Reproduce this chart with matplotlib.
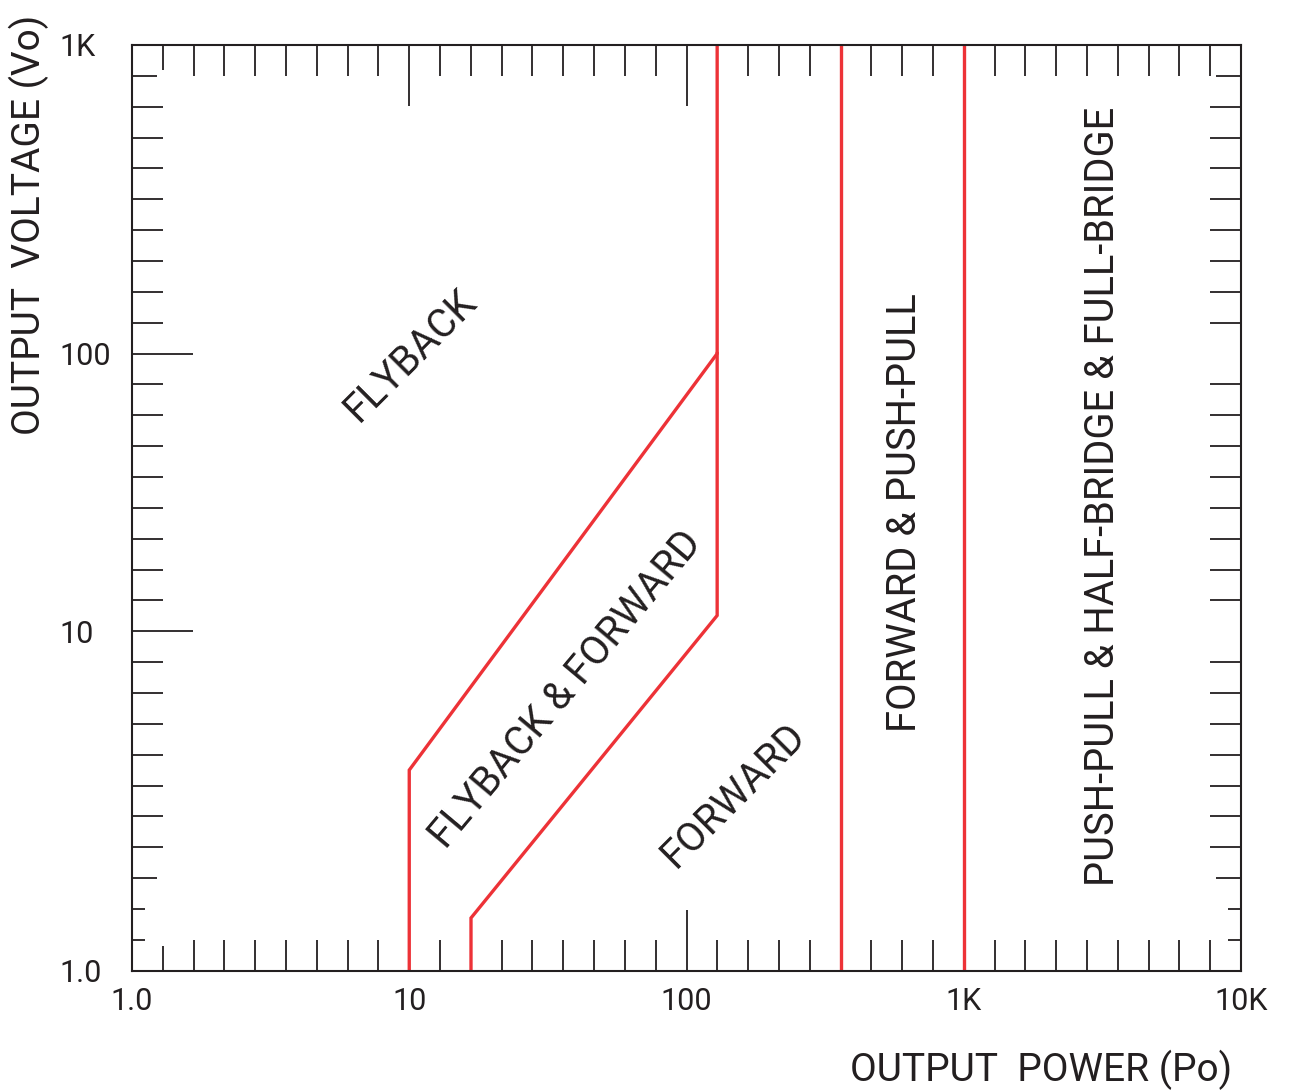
import numpy as np
import matplotlib
matplotlib.use('Agg')
from matplotlib import pyplot as plt
from matplotlib.ticker import FixedLocator, NullFormatter

plt.rcParams['font.family'] = ['Roboto', 'DejaVu Sans']

ink = '#231f20'
red = '#ed3237'

# the drawn y axis: decades sit 11, 9 and 10 tick steps apart
y_decades = [0, 1, 2, 3]
y_steps = [0, 11, 20, 30]

x_ticks = [1, 10, 100, 1000, 10000]
x_labels = ['1.0', '10', '100', '1K', '10K']
y_ticks = [1, 10, 100, 1000]
y_labels = ['1.0', '10', '100', '1K']

# region boundaries, output power (W) vs output voltage (V)
flyback_po = [10, 10, 129, 129]
flyback_vo = [1, 3.9, 100, 1000]
forward_po = [16.7, 16.7, 129, 129]
forward_vo = [1, 1.43, 11.4, 100]
pushpull_po = 360
bridge_po = 1000

lo = [-10] + y_decades + [13]
hi = [-110] + y_steps + [130]


def fwd(v):
    v = np.clip(np.asarray(v, dtype=float), 1e-12, None)
    return np.interp(np.log10(v), lo, hi)


def inv(u):
    return 10 ** np.interp(np.asarray(u, dtype=float), hi, lo)


fig = plt.figure(figsize=(12.9, 10.91), dpi=100)
ax = fig.add_axes([132 / 1290, 1 - 970.7 / 1091, 1109 / 1290, 925.7 / 1091])
ax.set_xscale('log')
ax.set_yscale('function', functions=(fwd, inv))
ax.set_xlim(1, 10000)
ax.set_ylim(1, 1000)

ax.plot(flyback_po, flyback_vo, color=red, lw=2.4, solid_joinstyle='miter')
ax.plot(forward_po, forward_vo, color=red, lw=2.4, solid_joinstyle='miter')
ax.axvline(pushpull_po, color=red, lw=2.4)
ax.axvline(bridge_po, color=red, lw=2.4)

# ticks
x_minor = [10 ** (k / 9) for k in range(1, 36) if k % 9]
y_minor = [float(inv(k)) for k in range(1, 30) if k not in (11, 20)]
ax.xaxis.set_major_locator(FixedLocator(x_ticks))
ax.xaxis.set_minor_locator(FixedLocator(x_minor))
ax.xaxis.set_minor_formatter(NullFormatter())
ax.yaxis.set_major_locator(FixedLocator(y_ticks))
ax.yaxis.set_minor_locator(FixedLocator(y_minor))
ax.yaxis.set_minor_formatter(NullFormatter())
ax.set_xticklabels(x_labels)
ax.set_yticklabels(y_labels, ha='left')

for s in ax.spines.values():
    s.set_color(ink)
    s.set_linewidth(1.5)

ax.tick_params(which='both', direction='in', top=True, right=True,
               width=1.3, color=ink, labelcolor=ink, labelsize=22)
ax.tick_params(which='major', length=44)
ax.tick_params(which='minor', length=22)
ax.tick_params(axis='x', which='major', pad=12)
ax.tick_params(axis='y', which='major', right=False, pad=52)

# shorter ticks near the corners
xt = ax.xaxis.get_minor_ticks()
for ln in (xt[0].tick1line, xt[0].tick2line):
    ln.set_markersize(18)
yt = ax.yaxis.get_minor_ticks()
for i, size in [(0, 9.5), (1, 9.5), (2, 18), (len(yt) - 1, 18)]:
    yt[i].tick1line.set_markersize(size)
    yt[i].tick2line.set_markersize(size)

ax.set_xlabel('OUTPUT  POWER (Po)', fontsize=28, color=ink, loc='right')
ax.xaxis.set_label_coords(0.992, -0.085)
ax.set_ylabel('OUTPUT  VOLTAGE (Vo)', fontsize=28, color=ink)
ax.yaxis.set_label_coords(-0.0745, 0.8055)

txt = dict(fontsize=28.7, color=ink, ha='center', va='center',
           rotation_mode='anchor', transform=ax.transAxes)
ax.text(0.2507, 0.6651, 'FLYBACK', rotation=45, **txt)
ax.text(0.3913, 0.3043, 'FLYBACK & FORWARD', rotation=50, **txt)
ax.text(0.5428, 0.1898, 'FORWARD', rotation=45, **txt)
ax.text(0.6970, 0.4945, 'FORWARD & PUSH-PULL', rotation=90, **txt)
ax.text(0.8755, 0.5129, 'PUSH-PULL & HALF-BRIDGE & FULL-BRIDGE', rotation=90, **txt)

fig.savefig('out.png', dpi=100)
